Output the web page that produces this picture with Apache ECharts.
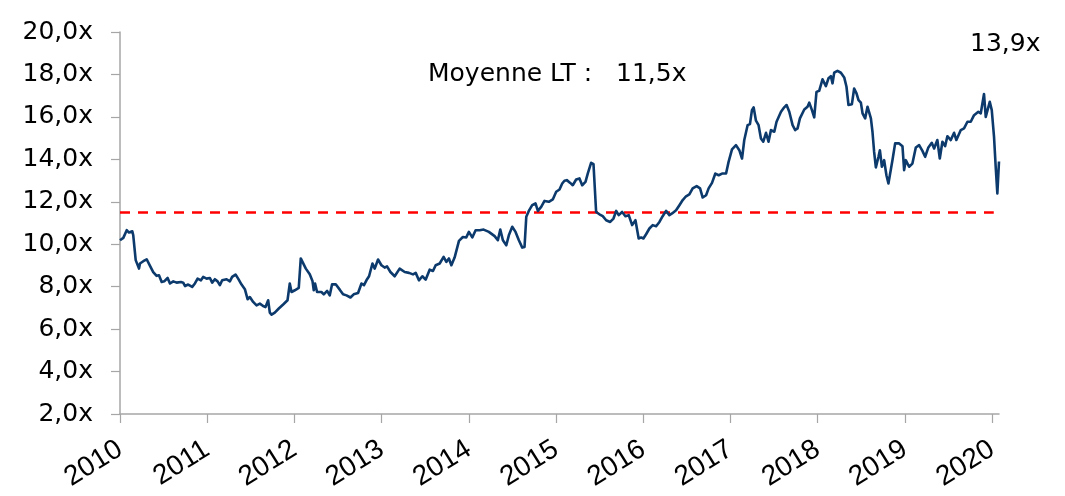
<!DOCTYPE html>
<html>
<head>
<meta charset="utf-8">
<script src="https://cdn.jsdelivr.net/npm/echarts@6/dist/echarts.min.js"></script>
<style>
  html, body { margin: 0; padding: 0; background: #fff; }
  #chart { width: 1065px; height: 496px; }
</style>
</head>
<body>
<div id="chart"></div>
<script>
'use strict'

// dates en années décimales, PER
var years = [
  2010.000, 2010.038, 2010.077, 2010.103, 2010.141, 2010.152, 2010.180, 2010.218, 2010.229, 2010.267,
  2010.306, 2010.344, 2010.381, 2010.420, 2010.447, 2010.478, 2010.507, 2010.546, 2010.573, 2010.611,
  2010.649, 2010.699, 2010.725, 2010.745, 2010.782, 2010.828, 2010.859, 2010.890, 2010.928, 2010.954,
  2010.993, 2011.031, 2011.057, 2011.088, 2011.119, 2011.145, 2011.172, 2011.222, 2011.260, 2011.286,
  2011.325, 2011.355, 2011.394, 2011.432, 2011.463, 2011.489, 2011.527, 2011.566, 2011.604, 2011.641,
  2011.669, 2011.699, 2011.718, 2011.738, 2011.775, 2011.821, 2011.871, 2011.921, 2011.947, 2011.967,
  2012.005, 2012.050, 2012.073, 2012.131, 2012.176, 2012.207, 2012.222, 2012.237, 2012.260, 2012.310,
  2012.337, 2012.375, 2012.405, 2012.432, 2012.474, 2012.520, 2012.558, 2012.597, 2012.643, 2012.680,
  2012.730, 2012.769, 2012.798, 2012.826, 2012.856, 2012.895, 2012.921, 2012.959, 2012.998, 2013.035,
  2013.062, 2013.101, 2013.150, 2013.207, 2013.265, 2013.314, 2013.360, 2013.391, 2013.428, 2013.467,
  2013.505, 2013.551, 2013.589, 2013.620, 2013.666, 2013.711, 2013.742, 2013.772, 2013.800, 2013.837,
  2013.857, 2013.887, 2013.932, 2013.971, 2014.001, 2014.040, 2014.078, 2014.124, 2014.170, 2014.230,
  2014.296, 2014.333, 2014.361, 2014.391, 2014.430, 2014.459, 2014.498, 2014.536, 2014.574, 2014.613,
  2014.639, 2014.659, 2014.688, 2014.727, 2014.765, 2014.792, 2014.830, 2014.868, 2014.918, 2014.963,
  2015.002, 2015.040, 2015.071, 2015.097, 2015.124, 2015.163, 2015.192, 2015.231, 2015.269, 2015.300,
  2015.338, 2015.364, 2015.403, 2015.430, 2015.460, 2015.498, 2015.536, 2015.575, 2015.621, 2015.659,
  2015.690, 2015.719, 2015.758, 2015.796, 2015.834, 2015.873, 2015.911, 2015.948, 2015.976, 2016.002,
  2016.033, 2016.071, 2016.109, 2016.148, 2016.186, 2016.223, 2016.262, 2016.300, 2016.331, 2016.377,
  2016.415, 2016.453, 2016.491, 2016.529, 2016.567, 2016.613, 2016.652, 2016.682, 2016.721, 2016.750,
  2016.789, 2016.827, 2016.865, 2016.904, 2016.950, 2016.979, 2017.018, 2017.064, 2017.102, 2017.133,
  2017.159, 2017.197, 2017.224, 2017.247, 2017.266, 2017.293, 2017.323, 2017.350, 2017.377, 2017.408,
  2017.437, 2017.465, 2017.503, 2017.529, 2017.580, 2017.617, 2017.644, 2017.675, 2017.713, 2017.743,
  2017.770, 2017.797, 2017.847, 2017.884, 2017.904, 2017.935, 2017.961, 2017.987, 2018.018, 2018.056,
  2018.095, 2018.125, 2018.152, 2018.171, 2018.190, 2018.228, 2018.267, 2018.305, 2018.331, 2018.354,
  2018.393, 2018.419, 2018.446, 2018.469, 2018.496, 2018.515, 2018.545, 2018.572, 2018.611, 2018.629,
  2018.648, 2018.668, 2018.698, 2018.714, 2018.737, 2018.763, 2018.789, 2018.812, 2018.858, 2018.889,
  2018.935, 2018.973, 2018.992, 2019.011, 2019.049, 2019.087, 2019.126, 2019.164, 2019.202, 2019.233,
  2019.270, 2019.309, 2019.336, 2019.373, 2019.401, 2019.431, 2019.462, 2019.488, 2019.527, 2019.565,
  2019.591, 2019.642, 2019.679, 2019.718, 2019.756, 2019.794, 2019.843, 2019.871, 2019.908, 2019.928,
  2019.974, 2019.997, 2020.023, 2020.042, 2020.061, 2020.080
];

var peRatio = [
  10.19, 10.30, 10.66, 10.55, 10.61, 10.42, 9.25, 8.85, 9.09, 9.20,
  9.29, 8.98, 8.69, 8.51, 8.54, 8.22, 8.25, 8.41, 8.15, 8.25,
  8.19, 8.22, 8.19, 8.03, 8.10, 7.99, 8.15, 8.38, 8.30, 8.46,
  8.38, 8.41, 8.19, 8.35, 8.25, 8.07, 8.30, 8.35, 8.25, 8.46,
  8.57, 8.38, 8.10, 7.88, 7.41, 7.51, 7.28, 7.12, 7.20, 7.09,
  7.04, 7.36, 6.78, 6.68, 6.78, 6.97, 7.16, 7.36, 8.15, 7.75,
  7.83, 7.94, 9.33, 8.85, 8.58, 8.27, 7.83, 8.15, 7.75, 7.75,
  7.64, 7.80, 7.59, 8.11, 8.11, 7.86, 7.64, 7.59, 7.49, 7.64,
  7.70, 8.15, 8.07, 8.30, 8.49, 9.09, 8.85, 9.28, 9.01, 8.90,
  8.96, 8.69, 8.49, 8.85, 8.69, 8.65, 8.58, 8.65, 8.30, 8.49,
  8.33, 8.80, 8.74, 9.01, 9.09, 9.40, 9.17, 9.33, 9.01, 9.37,
  9.40, 10.16, 10.34, 10.32, 10.58, 10.32, 10.66, 10.66, 10.69, 10.58,
  10.38, 10.19, 10.69, 10.19, 9.95, 10.42, 10.82, 10.58, 10.19, 9.84,
  9.87, 11.29, 11.57, 11.84, 11.92, 11.57, 11.76, 12.04, 12.00, 12.11,
  12.47, 12.58, 12.86, 12.99, 13.02, 12.89, 12.78, 13.05, 13.10, 12.78,
  12.94, 13.33, 13.84, 13.77, 11.52, 11.41, 11.32, 11.13, 11.05, 11.21,
  11.57, 11.37, 11.52, 11.32, 11.37, 10.90, 11.13, 10.27, 10.32, 10.27,
  10.47, 10.74, 10.90, 10.85, 11.05, 11.32, 11.57, 11.37, 11.45, 11.60,
  11.84, 12.08, 12.26, 12.35, 12.63, 12.74, 12.63, 12.20, 12.31, 12.63,
  12.89, 13.33, 13.25, 13.33, 13.33, 13.88, 14.47, 14.67, 14.43, 14.04,
  14.91, 15.61, 15.66, 16.32, 16.45, 15.82, 15.61, 14.98, 14.83, 15.25,
  14.83, 15.38, 15.30, 15.77, 16.24, 16.45, 16.56, 16.24, 15.61, 15.38,
  15.46, 15.93, 16.35, 16.48, 16.67, 16.32, 15.98, 17.18, 17.23, 17.77,
  17.45, 17.82, 17.92, 17.58, 18.08, 18.17, 18.08, 17.86, 17.42, 16.56,
  16.60, 17.34, 17.11, 16.79, 16.67, 16.17, 15.93, 16.48, 15.93, 15.30,
  14.35, 13.62, 14.12, 14.43, 13.65, 13.96, 13.25, 12.86, 13.96, 14.75,
  14.75, 14.62, 13.49, 13.96, 13.65, 13.80, 14.56, 14.67, 14.40, 14.12,
  14.56, 14.78, 14.51, 14.91, 14.04, 14.83, 14.62, 15.09, 14.91, 15.25,
  14.91, 15.38, 15.46, 15.77, 15.77, 16.08, 16.24, 16.17, 17.08, 16.00,
  16.71, 16.32, 15.06, 13.65, 12.39, 13.90
];

var avgLT = 11.5;                 // moyenne long terme
var avgSpan = [2010, 2020.02];    // étendue de la ligne pointillée
var lastValue = 13.9;
var xTickYears = [2010, 2011, 2012, 2013, 2014, 2015, 2016, 2017, 2018, 2019, 2020];

function fr(v, d) { return v.toFixed(d).replace('.', ','); }

var seriesData = years.map(function (y, i) { return [y, peRatio[i]]; });
var avgData = avgSpan.map(function (y) { return [y, avgLT]; });

var chart = echarts.init(document.getElementById('chart'), null, { renderer: 'canvas' });
var font = 'DejaVu Sans';

chart.setOption({
  backgroundColor: '#ffffff',
  animation: false,
  grid: { left: 120, right: 66, top: 32, bottom: 82, containLabel: false },
  xAxis: {
    type: 'value',
    min: 2010,
    max: 2020.08,
    splitLine: { show: false },
    axisLine: { lineStyle: { color: '#a6a6a6', width: 1.5 } },
    axisTick: { length: 9, lineStyle: { color: '#a6a6a6', width: 1.2 }, customValues: xTickYears },
    axisLabel: {
      customValues: xTickYears,
      rotate: 32,
      margin: 33,
      color: '#000',
      fontFamily: 'Liberation Sans',
      fontSize: 28,
      formatter: function (v) { return String(Math.round(v)); }
    }
  },
  yAxis: {
    type: 'value',
    min: 2,
    max: 20,
    interval: 2,
    splitLine: { show: false },
    axisLine: { show: true, lineStyle: { color: '#a6a6a6', width: 1.5 } },
    axisTick: { show: true, length: 9, lineStyle: { color: '#a6a6a6', width: 1.2 } },
    axisLabel: {
      margin: 27,
      color: '#000',
      fontFamily: font,
      fontSize: 25,
      formatter: function (v) { return fr(v, 1) + 'x'; }
    }
  },
  graphic: [
    {
      type: 'text', left: 428, top: 62,
      style: { text: 'Moyenne LT :   ' + fr(avgLT, 1) + 'x', font: '25px "DejaVu Sans"', fill: '#000' }
    },
    {
      type: 'text', left: 970, top: 32,
      style: { text: fr(lastValue, 1) + 'x', font: '25px "DejaVu Sans"', fill: '#000' }
    }
  ],
  series: [
    {
      type: 'line',
      data: avgData,
      showSymbol: false,
      silent: true,
      lineStyle: { color: '#ff0000', width: 2.5, type: [10, 8] },
      z: 2
    },
    {
      type: 'line',
      data: seriesData,
      showSymbol: false,
      clip: false,
      lineStyle: { color: '#0c3a6c', width: 2.6, join: 'round' },
      z: 3
    }
  ]
});
</script>
</body>
</html>
